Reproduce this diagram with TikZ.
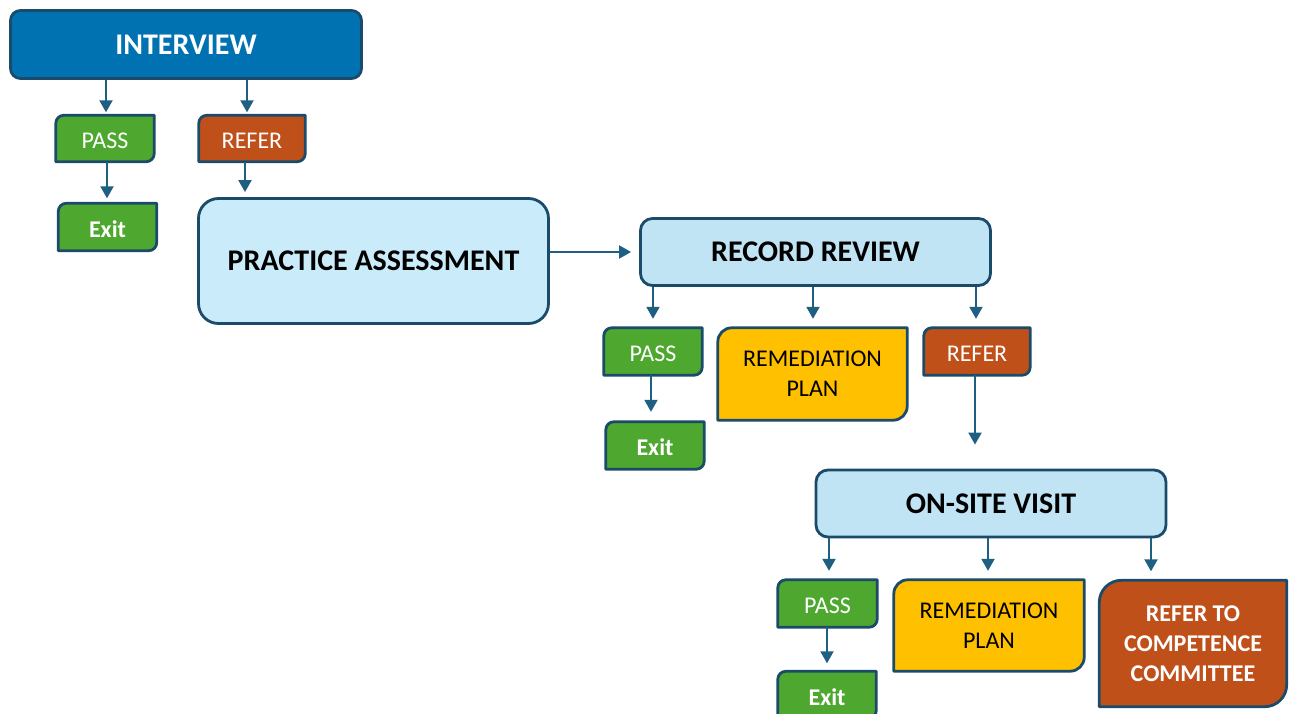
\documentclass[tikz,border=0pt]{standalone}
\usepackage{fontspec}
\setmainfont{Carlito}
\usetikzlibrary{arrows.meta}
\pgfdeclarelayer{bg}
\pgfsetlayers{bg,main}
\definecolor{edge}{HTML}{1B4B6A}
\definecolor{arrowc}{HTML}{1E5F82}
\definecolor{ivblue}{HTML}{0072B2}
\definecolor{pale}{HTML}{CAECFA}
\definecolor{pale2}{HTML}{C1E4F5}
\definecolor{passg}{HTML}{4EA72E}
\definecolor{referc}{HTML}{C0501A}
\definecolor{remy}{HTML}{FFC000}
\newcommand{\rdbox}[3]{%
  \draw[edge,line width=2.8pt,line join=round,fill=#1]
    (#2.north east) -- ([yshift=#3]#2.south east)
    arc[start angle=0,end angle=-90,radius=#3]
    -- (#2.south west) -- ([yshift=-#3]#2.north west)
    arc[start angle=180,end angle=90,radius=#3] -- cycle;}
\begin{document}
\begin{tikzpicture}[x=1pt,y=1pt,
  bigbox/.style={draw=edge,line width=2.8pt,inner sep=0pt,align=center,
    font=\fontsize{30}{35}\selectfont\bfseries},
  smallbox/.style={inner sep=0pt,align=center,font=\fontsize{24}{30}\selectfont},
  oneline/.style={text height=20pt,text depth=0pt},
  boldtext/.style={font=\fontsize{24}{30}\selectfont\bfseries},
  conn/.style={draw=arrowc,line width=2pt,-{Triangle[width=13pt,length=12pt]}}]
\useasboundingbox (0,0) rectangle (1289,-714);
\clip (0,0) rectangle (1289,-714);

% big boxes
\node[bigbox,fill=ivblue,text=white,rounded corners=10pt,minimum width=351pt,minimum height=68pt]
  (interview) at (186,-44.5) {INTERVIEW};
\node[bigbox,fill=pale,rounded corners=20pt,minimum width=350pt,minimum height=125pt]
  (practice) at (373.5,-261) {PRACTICE ASSESSMENT};
\node[bigbox,fill=pale2,rounded corners=12pt,minimum width=350pt,minimum height=67pt]
  (rr) at (815.5,-252) {RECORD REVIEW};
\node[bigbox,fill=pale2,rounded corners=12pt,minimum width=350pt,minimum height=67pt]
  (onsite) at (991,-503.5) {ON-SITE VISIT};

% small boxes (text)
\node[smallbox,oneline,text=white,minimum width=98pt,minimum height=46pt] (pass1) at (105,-138.5) {PASS};
\node[smallbox,oneline,text=white,minimum width=106pt,minimum height=46pt] (refer1) at (252,-138.5) {REFER};
\node[smallbox,boldtext,oneline,text=white,minimum width=98pt,minimum height=47pt] (exit1) at (107.5,-227) {Exit};

\node[smallbox,oneline,text=white,minimum width=98pt,minimum height=47pt] (pass2) at (653,-351.5) {PASS};
\node[smallbox,boldtext,oneline,text=white,minimum width=98pt,minimum height=47pt] (exit2) at (655,-445.5) {Exit};
\node[smallbox,minimum width=189pt,minimum height=92pt] (rem1) at (812.5,-374) {REMEDIATION\\PLAN};
\node[smallbox,oneline,text=white,minimum width=106pt,minimum height=47pt] (refer2) at (977,-351.5) {REFER};

\node[smallbox,oneline,text=white,minimum width=99pt,minimum height=47pt] (pass3) at (827.5,-603.5) {PASS};
\node[smallbox,boldtext,oneline,text=white,minimum width=98pt,minimum height=47pt] (exit3) at (827,-695) {Exit};
\node[smallbox,minimum width=190pt,minimum height=91pt] (rem2) at (989,-625.5) {REMEDIATION\\PLAN};
\node[smallbox,boldtext,text=white,minimum width=187pt,minimum height=126pt] (committee) at (1193,-643.5) {REFER TO\\COMPETENCE\\COMMITTEE};

\begin{pgfonlayer}{bg}
\rdbox{passg}{pass1}{8pt}
\rdbox{referc}{refer1}{8pt}
\rdbox{passg}{exit1}{8pt}
\rdbox{passg}{pass2}{8pt}
\rdbox{passg}{exit2}{8pt}
\rdbox{remy}{rem1}{14pt}
\rdbox{referc}{refer2}{8pt}
\rdbox{passg}{pass3}{8pt}
\rdbox{passg}{exit3}{8pt}
\rdbox{remy}{rem2}{14pt}
\rdbox{referc}{committee}{22pt}
\end{pgfonlayer}

% connectors
\draw[conn,shorten >=3pt] (interview.south -| 106,0) -- (pass1.north -| 106,0);
\draw[conn,shorten >=3pt] (interview.south -| 247,0) -- (refer1.north -| 247,0);
\draw[conn,shorten >=5pt] (pass1.south -| 107,0) -- (exit1.north -| 107,0);
\draw[conn,shorten >=5pt] (refer1.south -| 245,0) -- (practice.north -| 245,0);
\draw[conn,shorten >=8pt] (practice.east |- rr.west) -- (rr.west);
\draw[conn,shorten >=9pt] (rr.south -| 653,0) -- (pass2.north -| 653,0);
\draw[conn,shorten >=9pt] (rr.south -| 813,0) -- (rem1.north -| 813,0);
\draw[conn,shorten >=9pt] (rr.south -| 976,0) -- (refer2.north -| 976,0);
\draw[conn,shorten >=10pt] (pass2.south -| 651,0) -- (exit2.north -| 651,0);
\draw[conn,shorten >=24pt] (refer2.south -| 975,0) -- (onsite.north -| 975,0);
\draw[conn,shorten >=9pt] (onsite.south -| 829,0) -- (pass3.north -| 829,0);
\draw[conn,shorten >=9pt] (onsite.south -| 988,0) -- (rem2.north -| 988,0);
\draw[conn,shorten >=9pt] (onsite.south -| 1151,0) -- (committee.north -| 1151,0);
\draw[conn,shorten >=8pt] (pass3.south -| 827,0) -- (exit3.north -| 827,0);
\end{tikzpicture}
\end{document}
